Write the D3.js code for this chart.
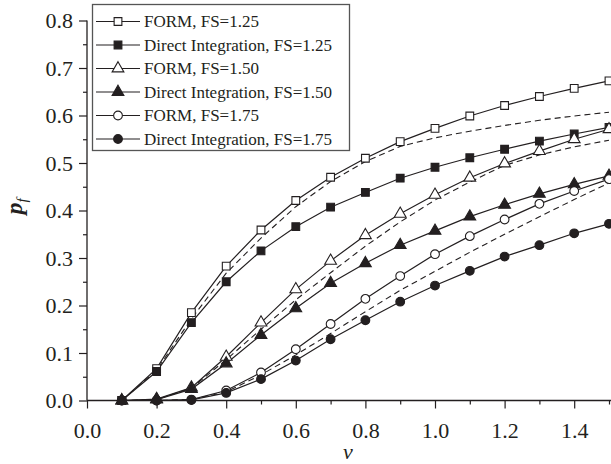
<!DOCTYPE html>
<html>
<head>
<meta charset="utf-8">
<script src="https://cdn.jsdelivr.net/npm/d3@7"></script>
<style>
  html, body { margin: 0; padding: 0; background: #fff; }
  svg { display: block; }
  text { font-family: 'Liberation Serif', 'Times New Roman', serif; fill: #231f20; }
</style>
</head>
<body>
<div id="chart"></div>
<script>
// ——— Data ———
const V = [0.1, 0.2, 0.3, 0.4, 0.5, 0.6, 0.7, 0.8, 0.9, 1.0, 1.1, 1.2, 1.3, 1.4, 1.5];

const FORM_125   = [0, 0.067, 0.185, 0.283, 0.359, 0.421, 0.470, 0.510, 0.545, 0.573, 0.599, 0.621, 0.640, 0.657, 0.673];
const DIRECT_125 = [0, 0.061, 0.164, 0.250, 0.315, 0.366, 0.407, 0.438, 0.468, 0.491, 0.511, 0.529, 0.546, 0.561, 0.575];
const FORM_150   = [0, 0.003, 0.027, 0.092, 0.164, 0.234, 0.294, 0.348, 0.393, 0.433, 0.469, 0.499, 0.525, 0.550, 0.571];
const DIRECT_150 = [0, 0.002, 0.024, 0.078, 0.138, 0.194, 0.247, 0.289, 0.327, 0.357, 0.387, 0.412, 0.435, 0.455, 0.473];
const FORM_175   = [0, 0.000, 0.002, 0.021, 0.059, 0.108, 0.161, 0.214, 0.262, 0.308, 0.346, 0.381, 0.414, 0.441, 0.466];
const DIRECT_175 = [0, 0.000, 0.001, 0.016, 0.045, 0.084, 0.129, 0.169, 0.208, 0.242, 0.273, 0.303, 0.327, 0.352, 0.372];

// dashed reference curves (no markers, not in legend)
const DASH_125 = [0, 0.064, 0.172, 0.268, 0.342, 0.408, 0.461, 0.503, 0.535, 0.553, 0.567, 0.579, 0.590, 0.599, 0.607];
const DASH_150 = [0, 0.002, 0.026, 0.086, 0.150, 0.212, 0.269, 0.325, 0.376, 0.422, 0.460, 0.495, 0.517, 0.534, 0.548];
const DASH_175 = [0, 0.000, 0.002, 0.018, 0.054, 0.096, 0.141, 0.187, 0.232, 0.272, 0.312, 0.350, 0.387, 0.423, 0.458];

const X_MAJOR = [0, 0.2, 0.4, 0.6, 0.8, 1.0, 1.2, 1.4];
const X_MINOR = [0.1, 0.3, 0.5, 0.7, 0.9, 1.1, 1.3, 1.5];
const Y_MAJOR = [0, 0.1, 0.2, 0.3, 0.4, 0.5, 0.6, 0.7, 0.8];
const Y_MINOR = [0.05, 0.15, 0.25, 0.35, 0.45, 0.55, 0.65, 0.75];

const SERIES = [
    { label: 'FORM, FS=1.25',               values: FORM_125,   shape: 'square',   filled: false },
    { label: 'Direct Integration, FS=1.25', values: DIRECT_125, shape: 'square',   filled: true },
    { label: 'FORM, FS=1.50',               values: FORM_150,   shape: 'triangle', filled: false },
    { label: 'Direct Integration, FS=1.50', values: DIRECT_150, shape: 'triangle', filled: true },
    { label: 'FORM, FS=1.75',               values: FORM_175,   shape: 'circle',   filled: false },
    { label: 'Direct Integration, FS=1.75', values: DIRECT_175, shape: 'circle',   filled: true }
];
const DASHED = [DASH_125, DASH_150, DASH_175];

(() => {
    const W = 611, H = 464;
    const INK = '#231f20';

    const svg = d3.select('#chart').append('svg')
        .attr('width', W).attr('height', H);

    const x = d3.scaleLinear().domain([0, 1.5]).range([87, 609]);
    const y = d3.scaleLinear().domain([0, 0.8]).range([400.5, 20.5]);

    // ——— Axes ———
    const xAxis = svg.append('g').attr('transform', `translate(0,${y(0)})`)
        .call(d3.axisBottom(x).tickValues(X_MAJOR).tickSize(8).tickPadding(14)
            .tickFormat(d3.format('.1f')));
    svg.append('g').attr('transform', `translate(0,${y(0)})`)
        .call(d3.axisBottom(x).tickValues(X_MINOR).tickSize(4).tickFormat(''));

    const yAxis = svg.append('g').attr('transform', `translate(${x(0)},0)`)
        .call(d3.axisLeft(y).tickValues(Y_MAJOR).tickSize(8).tickPadding(6)
            .tickFormat(d3.format('.1f')));
    svg.append('g').attr('transform', `translate(${x(0)},0)`)
        .call(d3.axisLeft(y).tickValues(Y_MINOR).tickSize(4).tickFormat(''));

    svg.selectAll('.domain').remove();
    svg.selectAll('.tick line').attr('stroke', INK).attr('stroke-width', 1.2);
    svg.selectAll('.tick text').attr('font-size', 22).attr('fill', INK)
        .style('font-family', "'Liberation Serif', serif");

    svg.append('line')
        .attr('x1', x(0)).attr('x2', W).attr('y1', y(0)).attr('y2', y(0))
        .attr('stroke', INK).attr('stroke-width', 1.3);
    svg.append('line')
        .attr('x1', x(0)).attr('x2', x(0)).attr('y1', y(0.8)).attr('y2', y(0))
        .attr('stroke', INK).attr('stroke-width', 1.3);

    // axis titles
    svg.append('text')
        .attr('x', (x(0) + x(1.5)) / 2).attr('y', 459)
        .attr('text-anchor', 'middle')
        .attr('font-size', 22).attr('font-style', 'italic')
        .text('v');

    const yt = svg.append('text')
        .attr('transform', `translate(22,${y(0.4) - 4}) rotate(-90)`)
        .attr('text-anchor', 'middle')
        .attr('font-size', 24).attr('font-style', 'italic');
    yt.append('tspan').attr('font-weight', 'bold').text('p');
    yt.append('tspan').attr('font-size', 15).attr('dy', 5).text('f');

    // ——— Lines ———
    const line = d3.line().x((d, i) => x(V[i])).y(d => y(d));

    const plot = svg.append('g');

    DASHED.forEach(vals => {
        plot.append('path').datum(vals)
            .attr('d', line)
            .attr('fill', 'none').attr('stroke', INK)
            .attr('stroke-width', 1.1).attr('stroke-dasharray', '6,4');
    });

    SERIES.forEach(s => {
        plot.append('path').datum(s.values)
            .attr('d', line)
            .attr('fill', 'none').attr('stroke', INK).attr('stroke-width', 1.2);
    });

    // ——— Markers ———
    const SYMBOL = {
        square:   d3.symbol().type(d3.symbolSquare).size(60),
        triangle: d3.symbol().type(d3.symbolTriangle).size(60),
        circle:   d3.symbol().type(d3.symbolCircle).size(60)
    };

    function drawMarker(g, s, cx, cy) {
        g.append('path')
            .attr('d', SYMBOL[s.shape]())
            .attr('transform', `translate(${cx},${cy})`)
            .attr('fill', s.filled ? INK : '#fff')
            .attr('stroke', INK).attr('stroke-width', 1.1);
    }

    SERIES.forEach(s => {
        s.values.forEach((v, i) => drawMarker(plot, s, x(V[i]), y(v)));
    });

    // ——— Legend ———
    const lg = svg.append('g');
    lg.append('rect')
        .attr('x', 92.5).attr('y', 4.5).attr('width', 257).attr('height', 146)
        .attr('fill', '#fff').attr('stroke', '#555').attr('stroke-width', 1.3);

    SERIES.forEach((s, i) => {
        const cy = 21.5 + i * 23.5;
        lg.append('line')
            .attr('x1', 96).attr('x2', 140).attr('y1', cy).attr('y2', cy)
            .attr('stroke', INK).attr('stroke-width', 1.2);
        drawMarker(lg, s, 118, cy);
        lg.append('text')
            .attr('x', 144).attr('y', cy).attr('dy', '0.35em')
            .attr('font-size', 17)
            .text(s.label);
    });
})();
</script>
</body>
</html>
